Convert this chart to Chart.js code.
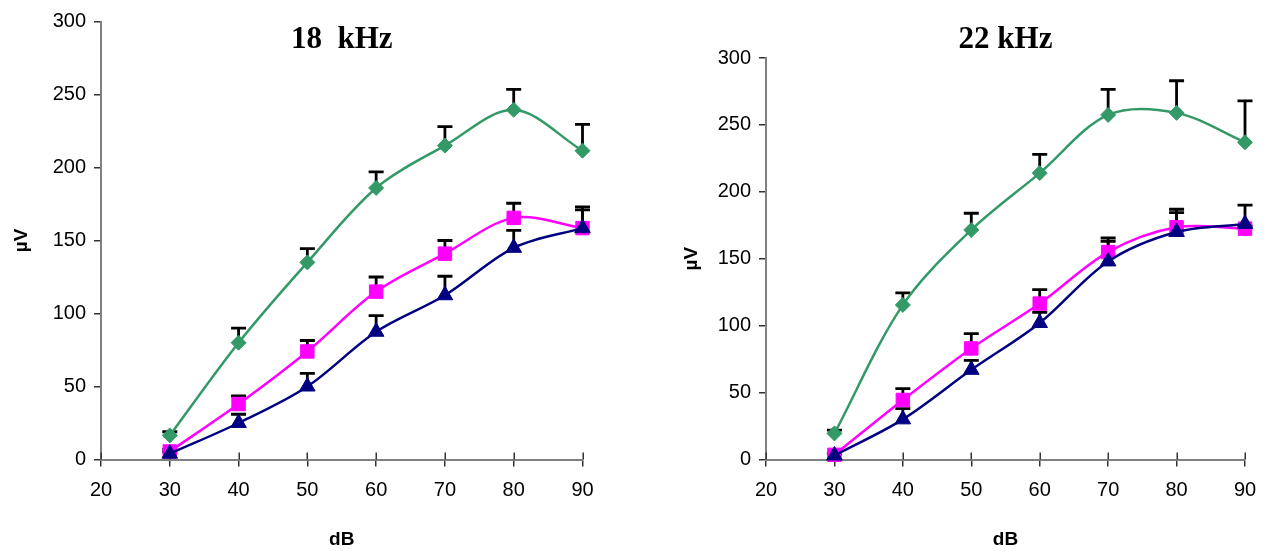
<!DOCTYPE html>
<html><head><meta charset="utf-8">
<script src="https://cdn.jsdelivr.net/npm/chart.js@4.4.1/dist/chart.umd.min.js"></script>
<style>
html,body{margin:0;padding:0;background:#fff;overflow:hidden}
#wrap{position:relative;width:1275px;height:551px}
#c1{position:absolute;left:0;top:0}
#c2{position:absolute;left:640px;top:0}
</style></head><body>
<div id="wrap"><canvas id="c1" width="640" height="551"></canvas><canvas id="c2" width="635" height="551"></canvas></div>
<script>
const dB = [30, 40, 50, 60, 70, 80, 90];
const xTicks = [20, 30, 40, 50, 60, 70, 80, 90];
const yTicks = [0, 50, 100, 150, 200, 250, 300];
const titles = ['18  kHz', '22 kHz'];
const xTitle = 'dB';
const yTitle = 'µV';

// 18 kHz
const green18 = [16.5, 80, 135, 186, 215, 239.5, 211.5];
const green18Err = [2.5, 10, 9.5, 11, 13, 14, 18];
const magenta18 = [5.5, 38, 74, 115, 141, 165.5, 158.5];
const magenta18Err = [1.5, 5.5, 7.5, 10, 9, 10, 14.5];
const navy18 = [4, 25, 50, 87.5, 112.5, 145, 158.5];
const navy18Err = [1, 6, 9, 11, 13, 12, 12.5];

// 22 kHz
const green22 = [19.5, 115.5, 171.5, 214, 257.5, 259, 237];
const green22Err = [2.5, 9, 12.5, 14, 19, 24, 31];
const magenta22 = [3.5, 44.5, 83, 116.5, 155, 173.5, 172.5];
const magenta22Err = [1, 8.5, 11, 10.5, 10.5, 13.5, 2];
const navy22 = [3, 30, 67, 102, 148, 170, 176];
const navy22Err = [1, 8, 7, 8, 15, 14.5, 14];

const GREEN = '#339966', MAGENTA = '#FF00FF', NAVY = '#000080';
const SANS = '"Liberation Sans", Arial, sans-serif';
const SERIF = '"Liberation Serif", "Times New Roman", serif';

function pts(vals) { return dB.map((d, i) => ({ x: d, y: vals[i] })); }

function ds(vals, errs, color, style, radius) {
  return {
    data: pts(vals), errorBars: errs,
    borderColor: color, backgroundColor: color, borderWidth: 2.5,
    pointStyle: style, pointRadius: radius, pointBorderWidth: 1,
    pointBorderColor: color, pointBackgroundColor: color,
    tension: 0.33, clip: false, fill: false
  };
}

function makeDecor(title) {
  return {
    id: 'decor',
    beforeDatasetsDraw(chart) {
      const { ctx, scales: { x, y } } = chart;
      ctx.save();
      ctx.strokeStyle = '#333'; ctx.lineWidth = 1.5;
      xTicks.forEach(v => {
        const px = Math.round(x.getPixelForValue(v)) + 0.25;
        ctx.beginPath(); ctx.moveTo(px, y.bottom); ctx.lineTo(px, y.bottom - 7); ctx.stroke();
      });
      ctx.strokeStyle = '#000'; ctx.lineWidth = 2.8;
      chart.data.datasets.forEach(d => {
        d.data.forEach((p, i) => {
          const px = x.getPixelForValue(p.x);
          const py0 = y.getPixelForValue(p.y);
          const py1 = y.getPixelForValue(p.y + d.errorBars[i]);
          ctx.beginPath();
          ctx.moveTo(px, py0); ctx.lineTo(px, py1);
          ctx.moveTo(px - 7.5, py1); ctx.lineTo(px + 7.5, py1);
          ctx.stroke();
        });
      });
      ctx.restore();
    },
    afterDraw(chart) {
      const { ctx, chartArea } = chart;
      ctx.save();
      ctx.font = 'bold 31px ' + SERIF;
      ctx.fillStyle = '#000';
      ctx.textAlign = 'center';
      ctx.textBaseline = 'alphabetic';
      ctx.fillText(title, (chartArea.left + chartArea.right) / 2, 48);
      ctx.restore();
    }
  };
}

function makeChart(id, title, datasets, pad, yWidth, yTitlePad) {
  return new Chart(document.getElementById(id), {
    type: 'line',
    data: { datasets },
    options: {
      responsive: false, animation: false,
      layout: { padding: pad },
      plugins: { legend: { display: false }, tooltip: { enabled: false } },
      scales: {
        x: {
          type: 'linear', min: 20, max: 90,
          afterBuildTicks: s => { s.ticks = xTicks.map(v => ({ value: v })); },
          afterFit: s => { s.height = 551 - 459.5 - pad.bottom; },
          grid: { drawOnChartArea: false, tickLength: 7, color: '#333', lineWidth: 1.5 },
          border: { color: '#808080', width: 2 },
          ticks: { color: '#000', font: { family: SANS, size: 20 }, padding: 12, maxRotation: 0 },
          title: { display: true, text: xTitle, color: '#000', font: { family: SANS, size: 19, weight: 'bold' }, padding: { top: 0, bottom: 0 } }
        },
        y: {
          min: 0, max: 300,
          afterBuildTicks: s => { s.ticks = yTicks.map(v => ({ value: v })); },
          afterFit: s => { s.width = yWidth; },
          grid: { drawOnChartArea: false, tickLength: 7, color: '#333', lineWidth: 1.5 },
          border: { color: '#808080', width: 2 },
          ticks: { color: '#000', font: { family: SANS, size: 20 }, padding: 8 },
          title: { display: true, text: yTitle, color: '#000', font: { family: SANS, size: 19, weight: 'bold' }, padding: { top: yTitlePad, bottom: 0 } }
        }
      }
    },
    plugins: [makeDecor(title)]
  });
}

makeChart('c1', titles[0], [
  ds(navy18, navy18Err, NAVY, 'triangle', 9),
  ds(magenta18, magenta18Err, MAGENTA, 'rect', 9.5),
  ds(green18, green18Err, GREEN, 'rectRot', 7.5)
], { left: 0, right: 57.5, top: 21.5, bottom: 0 }, 101, 10);

makeChart('c2', titles[1], [
  ds(navy22, navy22Err, NAVY, 'triangle', 9),
  ds(magenta22, magenta22Err, MAGENTA, 'rect', 9.5),
  ds(green22, green22Err, GREEN, 'rectRot', 7.5)
], { left: 0, right: 30, top: 58, bottom: 0 }, 126, 40);
</script>
</body></html>
